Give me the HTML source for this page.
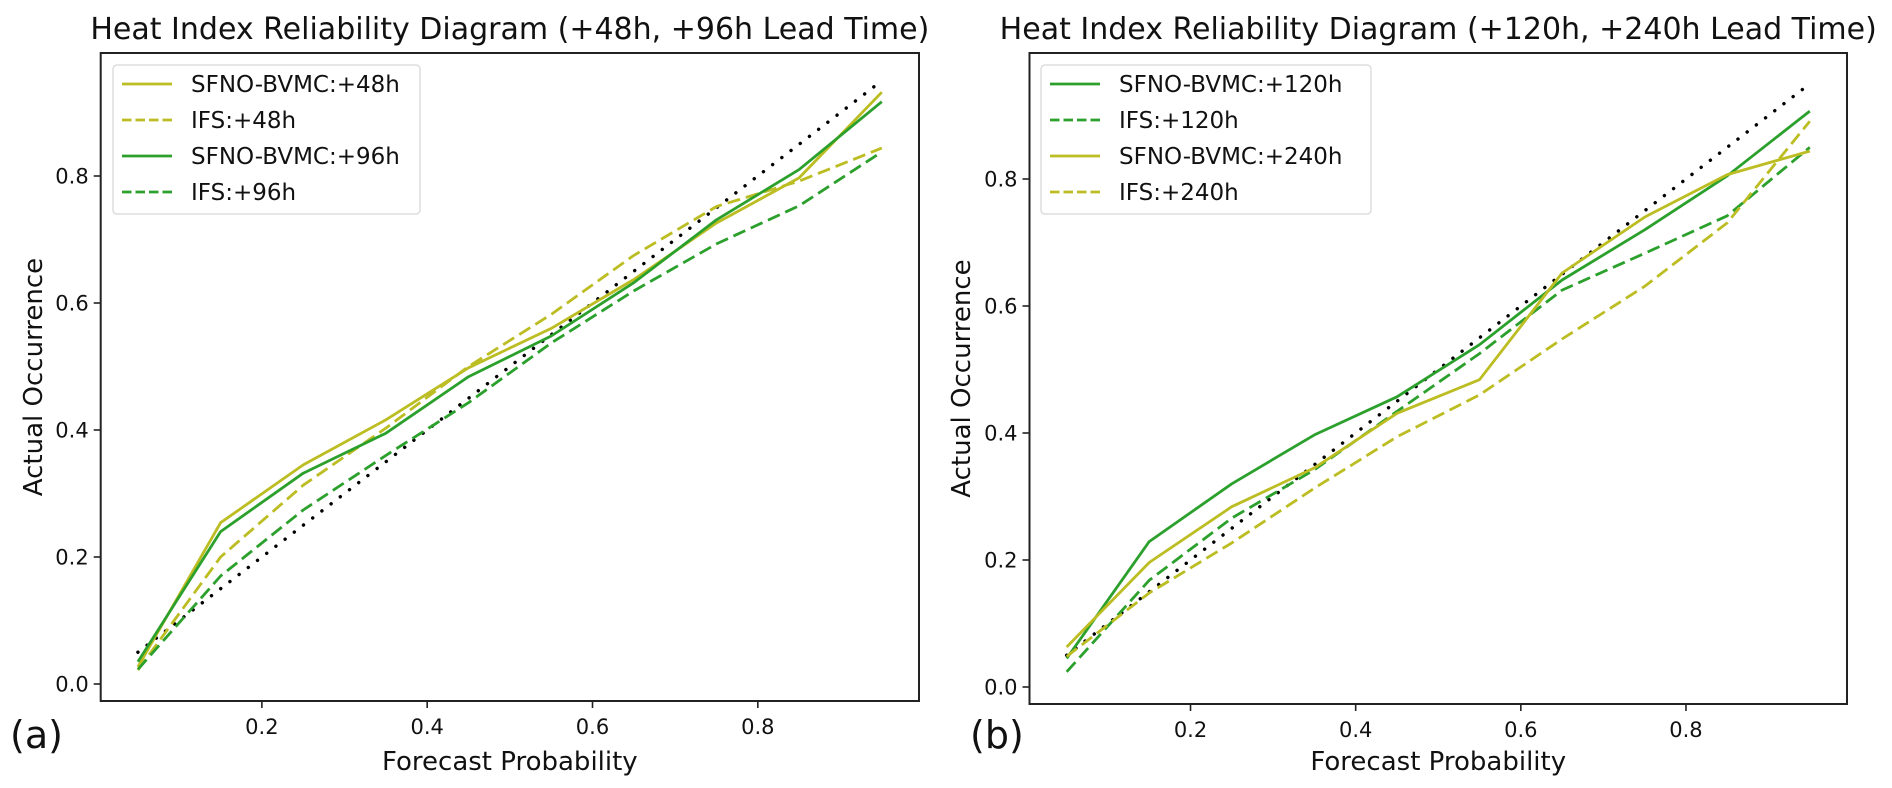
<!DOCTYPE html>
<html><head><meta charset="utf-8"><style>
html,body{margin:0;padding:0;background:#fff;}
svg{display:block;font-family:"DejaVu Sans","Liberation Sans",sans-serif;}
</style></head><body>
<svg id="fig" width="1892" height="788" viewBox="0 0 1892 788"></svg>
<script>
const probBins = [0.05,0.15,0.25,0.35,0.45,0.55,0.65,0.75,0.85,0.95];
const yTicks = [0.0,0.2,0.4,0.6,0.8];
const xTicks = [0.2,0.4,0.6,0.8];
const yTickLabels = ["0.0","0.2","0.4","0.6","0.8"];
const xTickLabels = ["0.2","0.4","0.6","0.8"];
const perfectLine = [0.05,0.95];
// panel (a)
const sfno48 = [0.027,0.254,0.345,0.416,0.498,0.560,0.637,0.726,0.797,0.932];
const ifs48  = [0.022,0.200,0.313,0.403,0.500,0.582,0.675,0.752,0.792,0.844];
const sfno96 = [0.035,0.240,0.332,0.395,0.484,0.548,0.632,0.731,0.810,0.917];
const ifs96  = [0.023,0.170,0.274,0.360,0.443,0.537,0.619,0.693,0.753,0.838];
// panel (b)
const sfno120 = [0.045,0.229,0.320,0.397,0.457,0.539,0.641,0.720,0.805,0.907];
const ifs120  = [0.024,0.168,0.266,0.342,0.434,0.525,0.625,0.683,0.742,0.850];
const sfno240 = [0.063,0.196,0.284,0.345,0.431,0.484,0.652,0.740,0.807,0.844];
const ifs240  = [0.048,0.148,0.227,0.313,0.394,0.460,0.548,0.631,0.731,0.891];

const NS='http://www.w3.org/2000/svg';
const svg=document.getElementById('fig');
function el(tag,attrs,parent){const e=document.createElementNS(NS,tag);for(const k in attrs)e.setAttribute(k,attrs[k]);(parent||svg).appendChild(e);return e;}
const YEL='#bcbd22', GRN='#2ca02c';

function panel(cfg){
  const g=el('g',{});
  
  
  const X=v=>cfg.x0+(v-0.005)/0.99*(cfg.x1-cfg.x0);
  const Y=v=>cfg.yZero-v*635;
  yTicks.forEach((t,i)=>{
    const tk=el('line',{x1:cfg.x0-7,x2:cfg.x0,y1:Y(t),y2:Y(t),stroke:'#222','stroke-width':1.6},g);
    
    
    const tl=el('text',{x:cfg.x0-12,y:Y(t)+7.5,'text-anchor':'end','font-size':21,fill:'#111'},g);
    tl.textContent=yTickLabels[i];
    
    
  });
  xTicks.forEach((t,i)=>{
    const tk=el('line',{x1:X(t),x2:X(t),y1:cfg.yBot,y2:cfg.yBot+7,stroke:'#222','stroke-width':1.6},g);
    
    
    const tl=el('text',{x:X(t),y:cfg.yBot+33,'text-anchor':'middle','font-size':21,fill:'#111'},g);
    tl.textContent=xTickLabels[i];
    
    
  });
  const d=el('line',{x1:X(perfectLine[0]),y1:Y(perfectLine[0]),x2:X(perfectLine[1]),y2:Y(perfectLine[1]),stroke:'#000','stroke-width':3.4,'stroke-dasharray':'0.1 11.5','stroke-linecap':'round'},g);
  
  
  cfg.series.forEach(s=>{
    const pts=probBins.map((p,i)=>X(p).toFixed(1)+','+Y(s.v[i]).toFixed(1)).join(' ');
    const pl=el('polyline',{points:pts,fill:'none',stroke:s.c,'stroke-width':2.8,'stroke-linejoin':'round'},g);
    if(s.dash)pl.setAttribute('stroke-dasharray','13 6');
    
    
  });
  const fr=el('rect',{x:cfg.x0,y:53,width:cfg.x1-cfg.x0,height:cfg.yBot-53,fill:'none',stroke:'#222','stroke-width':2},g);
  
  
  const ti=el('text',{x:(cfg.x0+cfg.x1)/2,y:39,'text-anchor':'middle','font-size':30,fill:'#111'},g);
  ti.textContent=cfg.title;
  
  
  const xl=el('text',{x:(cfg.x0+cfg.x1)/2,y:770,'text-anchor':'middle','font-size':26,fill:'#111'},g);
  xl.textContent='Forecast Probability';
  
  
  const yl=el('text',{x:0,y:0,'text-anchor':'middle','font-size':26,fill:'#111',transform:`translate(${cfg.ylabX},${(53+cfg.yBot)/2}) rotate(-90)`},g);
  yl.textContent='Actual Occurrence';
  
  
  const pl=el('text',{x:cfg.panelX,y:748,'font-size':38,fill:'#111'},g);
  pl.textContent=cfg.panelLabel;
  
  
  const lg=el('g',{},g);
  
  
  el('rect',{x:cfg.legX,y:65,width:cfg.legW,height:149,rx:4,fill:'#fff','fill-opacity':0.8,stroke:'#ddd','stroke-width':1.5},lg);
  cfg.series.forEach((s,i)=>{
    const yy=84+i*36;
    const en=el('g',{},lg);
    
    
    const ln=el('line',{x1:cfg.legX+9,x2:cfg.legX+59,y1:yy,y2:yy,stroke:s.c,'stroke-width':2.8},en);
    if(s.dash)ln.setAttribute('stroke-dasharray','9.5 4');
    const t=el('text',{x:cfg.legX+78,y:yy+8,'font-size':23,fill:'#111'},en);
    t.textContent=s.label;
  });
}
panel({name:'panel-a',x0:100.7,x1:919,yZero:684,yBot:701,ylabX:42,panelX:10,panelLabel:'(a)',legX:113,legW:307,
  title:'Heat Index Reliability Diagram (+48h, +96h Lead Time)',
  series:[{id:'sfno-48h-line',label:'SFNO-BVMC:+48h',v:sfno48,c:YEL},{id:'ifs-48h-line',label:'IFS:+48h',v:ifs48,c:YEL,dash:1},
          {id:'sfno-96h-line',label:'SFNO-BVMC:+96h',v:sfno96,c:GRN},{id:'ifs-96h-line',label:'IFS:+96h',v:ifs96,c:GRN,dash:1}]});
panel({name:'panel-b',x0:1029.5,x1:1847,yZero:687,yBot:704,ylabX:970,panelX:970,panelLabel:'(b)',legX:1041,legW:330,
  title:'Heat Index Reliability Diagram (+120h, +240h Lead Time)',
  series:[{id:'sfno-120h-line',label:'SFNO-BVMC:+120h',v:sfno120,c:GRN},{id:'ifs-120h-line',label:'IFS:+120h',v:ifs120,c:GRN,dash:1},
          {id:'sfno-240h-line',label:'SFNO-BVMC:+240h',v:sfno240,c:YEL},{id:'ifs-240h-line',label:'IFS:+240h',v:ifs240,c:YEL,dash:1}]});
</script>
</body></html>
